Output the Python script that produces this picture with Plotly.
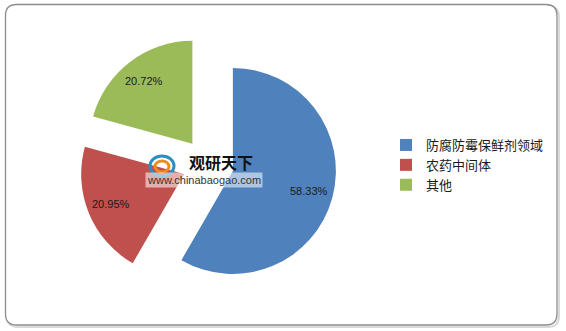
import math
import plotly.graph_objects as go

# ---- data ----
categories = ["防腐防霉保鲜剂领域", "农药中间体", "其他"]
shares = [58.33, 20.95, 20.72]
colors = ["#4F81BD", "#C0504D", "#9BBB59"]
pulls = [0.25, 0.25, 0.25]

W, H = 566, 331

def px(x):
    return x / W

def py(y):
    return 1 - y / H

# pie placement (pixels)
cx, cy, r = 208, 164.3, 103
half = r * (1 + max(pulls))
label_frac = 0.77

fig = go.Figure()
fig.add_trace(go.Pie(
    labels=categories,
    values=shares,
    sort=False,
    direction="clockwise",
    rotation=0,
    pull=pulls,
    marker=dict(colors=colors, line=dict(width=0)),
    textinfo="none",
    hoverinfo="label+percent",
    domain=dict(x=[px(cx - half), px(cx + half)], y=[py(cy + half), py(cy - half)]),
    showlegend=True,
))

# percentage labels placed along each slice bisector (derived from the data)
annotations = []
total = sum(shares)
start = 0.0
for val, pull in zip(shares, pulls):
    span = 360.0 * val / total
    mid = math.radians(start + span / 2)
    dx, dy = math.sin(mid), -math.cos(mid)
    ax = cx + dx * r * pull + dx * r * label_frac
    ay = cy + dy * r * pull + dy * r * label_frac
    annotations.append(dict(
        x=px(ax), y=py(ay), xref="paper", yref="paper",
        xanchor="center", yanchor="middle",
        text=f"{val:.2f}%", showarrow=False,
        font=dict(family="Liberation Sans, Arial, sans-serif", size=11, color="#1a1a1a"),
    ))
    start += span

# watermark
annotations += [
    dict(x=px(221), y=py(162), xref="paper", yref="paper", text="<b>观研天下</b>",
         xanchor="center", yanchor="middle",
         showarrow=False, font=dict(family="Noto Sans CJK SC", size=16, color="#111111")),
    dict(x=px(204), y=py(180), xref="paper", yref="paper", text="www.chinabaogao.com",
         xanchor="center", yanchor="middle",
         showarrow=False, font=dict(family="Liberation Sans, Arial", size=11, color="#333333"),
         bgcolor="rgba(255,255,255,0.55)"),
]

# rounded border frame
def rounded(x0, y0, x1, y1, rad):
    X0, X1 = px(x0), px(x1)
    Y0, Y1 = py(y0), py(y1)
    rx, ry = rad / W, rad / H
    return (f"M {X0+rx},{Y0} L {X1-rx},{Y0} Q {X1},{Y0} {X1},{Y0-ry} "
            f"L {X1},{Y1+ry} Q {X1},{Y1} {X1-rx},{Y1} "
            f"L {X0+rx},{Y1} Q {X0},{Y1} {X0},{Y1+ry} "
            f"L {X0},{Y0-ry} Q {X0},{Y0} {X0+rx},{Y0} Z")

shapes = [
    dict(type="path", xref="paper", yref="paper", path=rounded(7, 6, 559, 327, 11),
         line=dict(color="#d9d9d9", width=2), layer="below"),
    dict(type="path", xref="paper", yref="paper", path=rounded(5.5, 4.5, 557, 325, 11),
         line=dict(color="#8c8c8c", width=1.3), fillcolor="white", layer="below"),
    # small logo mark of the watermark
    dict(type="circle", xref="paper", yref="paper",
         x0=px(150), x1=px(174), y0=py(176), y1=py(156),
         line=dict(color="#2a8fc0", width=3)),
    dict(type="circle", xref="paper", yref="paper",
         x0=px(155), x1=px(169), y0=py(172), y1=py(161),
         line=dict(color="#f08a1c", width=3)),
]

fig.update_layout(
    width=W, height=H,
    margin=dict(l=0, r=0, t=0, b=0),
    paper_bgcolor="white",
    plot_bgcolor="white",
    shapes=shapes,
    annotations=annotations,
    legend=dict(
        x=px(386), y=py(165), xanchor="left", yanchor="middle",
        font=dict(family="Noto Sans CJK SC", size=13, color="#1a1a1a"),
        bgcolor="rgba(0,0,0,0)",
        itemclick=False,
    ),
)

fig.write_html("out.html")
